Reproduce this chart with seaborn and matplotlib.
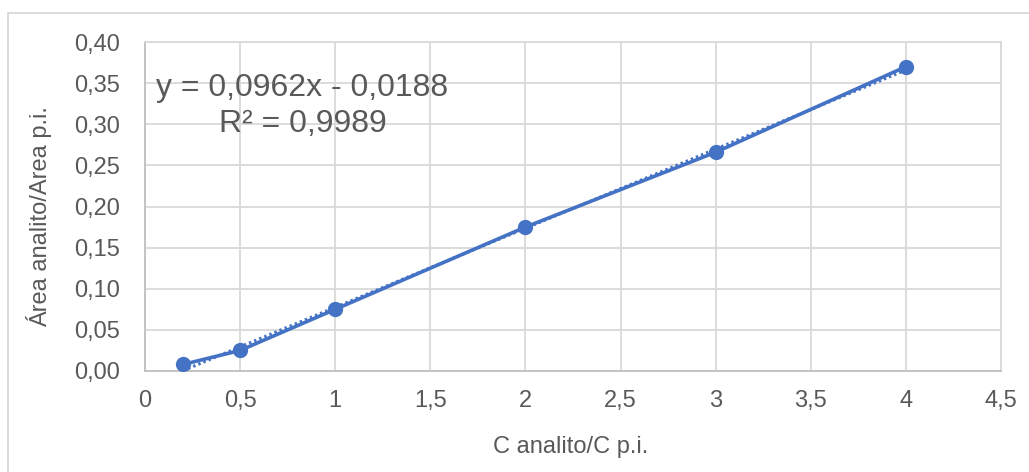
import matplotlib
matplotlib.use("Agg")
import matplotlib.pyplot as plt
from matplotlib.lines import Line2D
import numpy as np
import pandas as pd
import seaborn as sns

# Calibration data
conc_ratio = [0.2, 0.5, 1, 2, 3, 4]
area_ratio = [0.008, 0.025, 0.075, 0.175, 0.266, 0.370]

# Linear fit reported on the chart
slope = 0.0962
intercept = -0.0188
r_squared = 0.9989

x_ticks = [0, 0.5, 1, 1.5, 2, 2.5, 3, 3.5, 4, 4.5]
x_tick_labels = ["0", "0,5", "1", "1,5", "2", "2,5", "3", "3,5", "4", "4,5"]
y_ticks = [0.00, 0.05, 0.10, 0.15, 0.20, 0.25, 0.30, 0.35, 0.40]
y_tick_labels = ["0,00", "0,05", "0,10", "0,15", "0,20", "0,25", "0,30", "0,35", "0,40"]

sns.set_theme(style="white")
plt.rcParams["font.family"] = ["Liberation Sans", "DejaVu Sans"]

W, H = 1029, 472
fig = plt.figure(figsize=(W / 100, H / 100), dpi=100)
ax = fig.add_axes([145 / W, 1 - 371 / H, (1001 - 145) / W, (371 - 42) / H])

blue = "#4472C4"
text_gray = "#595959"
grid_gray = "#d9d9d9"

df = pd.DataFrame({"x": conc_ratio, "y": area_ratio})

# Trendline from the fitted equation
fit_x = np.array([min(conc_ratio), max(conc_ratio)])
fit_df = pd.DataFrame({"x": fit_x, "y": slope * fit_x + intercept})
sns.lineplot(data=fit_df, x="x", y="y", ax=ax, color=blue, linewidth=2.2,
             linestyle=(0, (0.8, 1.0)), zorder=3)

# Measured series
sns.lineplot(data=df, x="x", y="y", ax=ax, color=blue, linewidth=2.6,
             marker="o", markersize=11, markeredgewidth=0,
             markerfacecolor=blue, zorder=4)

ax.set_xlim(0, 4.5)
ax.set_ylim(0, 0.40)
ax.set_xticks(x_ticks)
ax.set_xticklabels(x_tick_labels)
ax.set_yticks(y_ticks)
ax.set_yticklabels(y_tick_labels)
ax.tick_params(axis="both", length=0, labelsize=17, colors=text_gray)
ax.tick_params(axis="x", pad=14)
ax.tick_params(axis="y", pad=18)

ax.grid(True, color=grid_gray, linewidth=1.3)
ax.set_axisbelow(True)
for side in ["top", "right"]:
    ax.spines[side].set_color(grid_gray)
    ax.spines[side].set_linewidth(1.3)
for side in ["bottom", "left"]:
    ax.spines[side].set_color("#bfbfbf")
    ax.spines[side].set_linewidth(1.3)

ax.set_xlabel("")
ax.set_ylabel("")
fig.text(571 / W, 1 - 447 / H, "C analito/C p.i.", ha="center", va="center",
         fontsize=17, color=text_gray)
fig.text(39 / W, 1 - 217 / H, "Área analito/Area p.i.", ha="center", va="center",
         rotation=90, fontsize=17, color=text_gray)

eq = f"y = {slope:.4f}x - {abs(intercept):.4f}".replace(".", ",")
r2 = f"R² = {r_squared:.4f}".replace(".", ",")
fig.text(302 / W, 1 - 88 / H, eq, ha="center", va="center", fontsize=23, color=text_gray)
fig.text(303 / W, 1 - 124 / H, r2, ha="center", va="center", fontsize=23, color=text_gray)

# Chart area border
fig.add_artist(Line2D([7.5 / W, 1.0], [1 - 12.5 / H, 1 - 12.5 / H],
                      transform=fig.transFigure, color=grid_gray, linewidth=1.3))
fig.add_artist(Line2D([7.5 / W, 7.5 / W], [0.0, 1 - 12.5 / H],
                      transform=fig.transFigure, color=grid_gray, linewidth=1.3))

fig.savefig("out.png", dpi=100, facecolor="white")
